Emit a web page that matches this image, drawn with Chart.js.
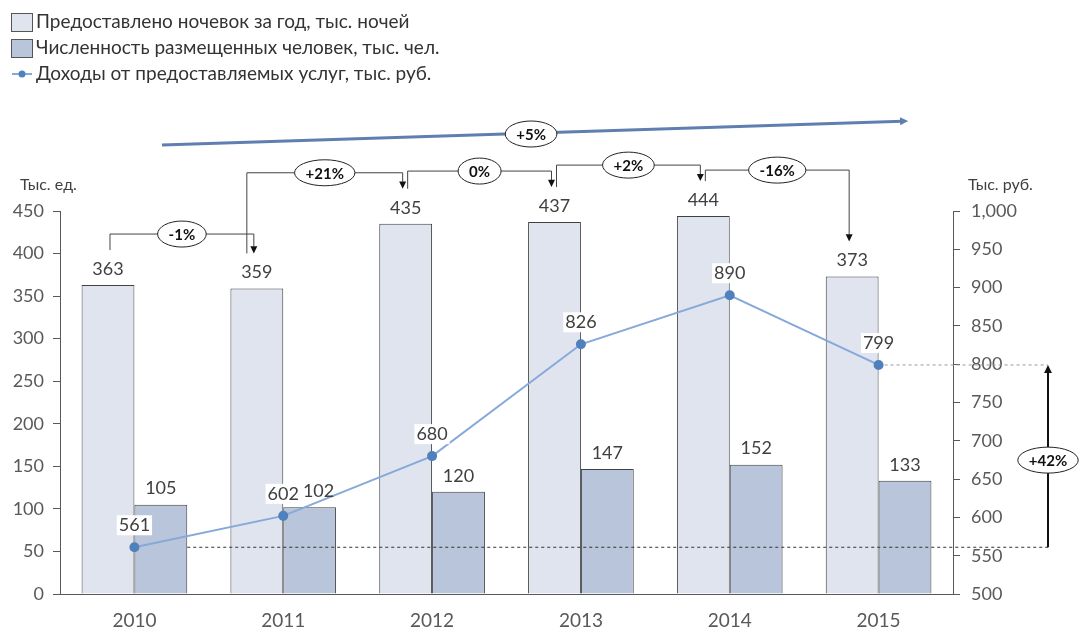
<!DOCTYPE html>
<html>
<head>
<meta charset="utf-8">
<script src="https://cdn.jsdelivr.net/npm/chart.js@4.4.0/dist/chart.umd.min.js"></script>
<style>
  body { margin: 0; background: #fff; }
  #wrap { width: 1079px; height: 630px; }
</style>
</head>
<body>
<div id="wrap"><canvas id="chart" width="1079" height="630"></canvas></div>
<script>
const years = ["2010", "2011", "2012", "2013", "2014", "2015"];
const nights = [363, 359, 435, 437, 444, 373];
const guests = [105, 102, 120, 147, 152, 133];
const income = [561, 602, 680, 826, 890, 799];
const stepLabels = ["-1%", "+21%", "0%", "+2%", "-16%"];
const totalNightsLabel = "+5%";
const totalIncomeLabel = "+42%";

const FONT = "Lato, 'Open Sans', sans-serif";
const lightFill = "#dfe4ee";
const darkFill = "#b9c5da";
const lineColor = "#86a9d9";
const pointColor = "#4f81bd";
const textColor = "#404040";

function ellipseLabel(ctx, x, y, text) {
  ctx.font = "bold 15px " + FONT;
  const w = ctx.measureText(text).width;
  ctx.beginPath();
  ctx.ellipse(x, y, w / 2 + 11, 13, 0, 0, Math.PI * 2);
  ctx.fillStyle = "#fff";
  ctx.fill();
  ctx.strokeStyle = "#222";
  ctx.lineWidth = 1;
  ctx.stroke();
  ctx.fillStyle = "#111";
  ctx.textAlign = "center";
  ctx.textBaseline = "middle";
  ctx.fillText(text, x, y + 1);
}

function arrowHead(ctx, x, y, dir, size) {
  ctx.beginPath();
  ctx.moveTo(x, y);
  ctx.lineTo(x - size * Math.cos(dir - 0.45), y - size * Math.sin(dir - 0.45));
  ctx.lineTo(x - size * Math.cos(dir + 0.45), y - size * Math.sin(dir + 0.45));
  ctx.closePath();
  ctx.fill();
}

const extras = {
  id: "extras",
  afterDatasetsDraw(chart) {
    const ctx = chart.ctx;
    const light = chart.getDatasetMeta(0).data;
    const dark = chart.getDatasetMeta(1).data;
    const pts = chart.getDatasetMeta(2).data;
    const area = chart.chartArea;
    ctx.save();

    ctx.font = "18px " + FONT;
    ctx.textAlign = "center";
    ctx.textBaseline = "middle";

    // white boxes behind line labels
    const lineBoxes = pts.map((p, i) => {
      const w = ctx.measureText(String(income[i])).width;
      return { x: p.x, y: p.y - 22, w: w };
    });
    ctx.fillStyle = "#fff";
    lineBoxes.forEach(b => ctx.fillRect(b.x - b.w / 2 - 2, b.y - 10, b.w + 4, 20));

    // value labels on bars
    ctx.fillStyle = textColor;
    light.forEach((b, i) => ctx.fillText(nights[i], b.x, b.y - 16));
    dark.forEach((b, i) => {
      const t = String(guests[i]);
      const w = ctx.measureText(t).width;
      let x = b.x;
      const y = b.y - 16;
      const lb = lineBoxes[i];
      if (Math.abs(lb.y - y) < 18) {
        const overlap = (lb.x + lb.w / 2 + 4) - (x - w / 2);
        if (overlap > 0) x += overlap;
      }
      ctx.fillText(t, x, y);
    });
    lineBoxes.forEach((b, i) => ctx.fillText(income[i], b.x, b.y));

    // dotted reference lines for income
    const xr = 1048;
    const first = pts[0], last = pts[pts.length - 1];
    ctx.setLineDash([3, 3]);
    ctx.lineWidth = 1;
    ctx.strokeStyle = "#333";
    ctx.beginPath();
    ctx.moveTo(dark[0].x + dark[0].width / 2, first.y);
    ctx.lineTo(xr, first.y);
    ctx.stroke();
    ctx.strokeStyle = "#999";
    ctx.beginPath();
    ctx.moveTo(last.x + 6, last.y);
    ctx.lineTo(xr, last.y);
    ctx.stroke();
    ctx.setLineDash([]);

    // +42% arrow
    ctx.strokeStyle = "#111";
    ctx.fillStyle = "#111";
    ctx.lineWidth = 2;
    ctx.beginPath();
    ctx.moveTo(xr, first.y);
    ctx.lineTo(xr, last.y + 6);
    ctx.stroke();
    arrowHead(ctx, xr, last.y, -Math.PI / 2, 9);
    ellipseLabel(ctx, xr, (first.y + last.y) / 2 + 4, totalIncomeLabel);

    // step brackets between bars
    ctx.lineWidth = 1;
    for (let i = 0; i < stepLabels.length; i++) {
      const a = light[i], b = light[i + 1];
      const x0 = a.x + (i === 1 ? -10 : 2);
      const x1 = b.x - 3;
      const top = Math.min(a.y, b.y);
      const hy = top - (i === 4 ? 46 : 51);
      ctx.strokeStyle = "#444";
      ctx.fillStyle = "#111";
      ctx.beginPath();
      ctx.moveTo(x0, a.y - 35);
      ctx.lineTo(x0, hy);
      ctx.lineTo(x1, hy);
      ctx.lineTo(x1, b.y - 42);
      ctx.stroke();
      arrowHead(ctx, x1, b.y - 35, Math.PI / 2, 8);
      ellipseLabel(ctx, (x0 + x1) / 2, hy, stepLabels[i]);
    }

    // long +5% arrow
    const sx = light[0].x + 54, sy = area.top - 66;
    const ex = light[5].x + 56, ey = area.top - 90;
    ctx.strokeStyle = "#5f7fb0";
    ctx.fillStyle = "#5f7fb0";
    ctx.lineWidth = 3;
    ctx.beginPath();
    ctx.moveTo(sx, sy);
    ctx.lineTo(ex - 6, ey + 0.2);
    ctx.stroke();
    arrowHead(ctx, ex, ey, Math.atan2(ey - sy, ex - sx), 9);
    ellipseLabel(ctx, (sx + ex) / 2 - 4, (sy + ey) / 2 + 1, totalNightsLabel);

    // axis titles
    ctx.font = "16px " + FONT;
    ctx.fillStyle = textColor;
    ctx.textAlign = "left";
    ctx.textBaseline = "middle";
    ctx.fillText("Тыс. ед.", 20, area.top - 26);
    ctx.fillText("Тыс. руб.", area.right + 15, area.top - 26);

    // legend
    const items = chart.data.datasets;
    ctx.font = "19px " + FONT;
    [0, 1].forEach(k => {
      const y = 22 + k * 26;
      ctx.fillStyle = items[k].backgroundColor;
      ctx.fillRect(11, y - 9, 21, 18);
      ctx.strokeStyle = "#555";
      ctx.lineWidth = 1;
      ctx.strokeRect(11.5, y - 8.5, 21, 18);
      ctx.fillStyle = "#333";
      ctx.fillText(items[k].label, 36, y);
    });
    const ly = 74;
    ctx.strokeStyle = lineColor;
    ctx.lineWidth = 2;
    ctx.beginPath();
    ctx.moveTo(12, ly);
    ctx.lineTo(32, ly);
    ctx.stroke();
    ctx.fillStyle = pointColor;
    ctx.beginPath();
    ctx.arc(22, ly, 3.5, 0, Math.PI * 2);
    ctx.fill();
    ctx.fillStyle = "#333";
    ctx.fillText(items[2].label, 36, ly);

    ctx.restore();
  }
};

new Chart(document.getElementById("chart"), {
  type: "bar",
  data: {
    labels: years,
    datasets: [
      {
        label: "Предоставлено ночевок за год, тыс. ночей",
        data: nights,
        yAxisID: "y",
        backgroundColor: lightFill,
        borderColor: "#404040",
        borderWidth: 1,
        order: 2
      },
      {
        label: "Численность размещенных человек, тыс. чел.",
        data: guests,
        yAxisID: "y",
        backgroundColor: darkFill,
        borderColor: "#404040",
        borderWidth: 1,
        order: 2
      },
      {
        type: "line",
        label: "Доходы от предоставляемых услуг, тыс. руб.",
        data: income,
        yAxisID: "y1",
        borderColor: lineColor,
        borderWidth: 2,
        pointBackgroundColor: pointColor,
        pointBorderColor: pointColor,
        pointRadius: 4,
        tension: 0,
        order: 0
      }
    ]
  },
  options: {
    responsive: false,
    animation: false,
    categoryPercentage: 0.71,
    barPercentage: 1.0,
    layout: { padding: { top: 211, left: 0, right: 0, bottom: 0 } },
    plugins: { legend: { display: false }, tooltip: { enabled: false } },
    scales: {
      x: {
        grid: { display: false, drawTicks: false },
        border: { color: "#595959" },
        ticks: { color: "#595959", font: { family: FONT, size: 19 }, padding: 15 },
        afterFit(s) { s.height = 36; }
      },
      y: {
        position: "left",
        min: 0, max: 450,
        ticks: { stepSize: 50, color: "#595959", font: { family: FONT, size: 18 }, padding: 9 },
        grid: { drawOnChartArea: false, tickLength: 7, color: "#595959" },
        border: { color: "#595959" },
        afterFit(s) { s.width = 60; }
      },
      y1: {
        position: "right",
        min: 500, max: 1000,
        ticks: {
          stepSize: 50, color: "#595959", font: { family: FONT, size: 18 }, padding: 11,
          callback: v => v.toLocaleString("en-US")
        },
        grid: { drawOnChartArea: false, tickLength: 7, color: "#595959" },
        border: { color: "#595959" },
        afterFit(s) { s.width = 126; }
      }
    }
  },
  plugins: [extras]
});
</script>
</body>
</html>
